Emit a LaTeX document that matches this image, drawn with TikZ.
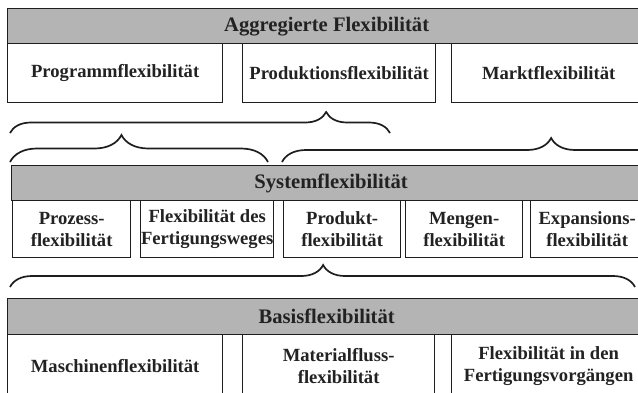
\documentclass[tikz,border=0pt]{standalone}
\usepackage{fontspec}
\setmainfont{Liberation Serif}
\usetikzlibrary{decorations.pathreplacing}

\definecolor{bandgray}{HTML}{B4B4B4}
\definecolor{inkline}{HTML}{1E1E1E}
\definecolor{inktext}{HTML}{222222}

\tikzset{
  cell/.style={draw=inkline, line width=1.3pt, fill=white, inner sep=0pt,
    anchor=north west, align=center, text=inktext,
    font=\bfseries\fontsize{18.6}{22}\selectfont},
  band/.style={cell, fill=bandgray, font=\bfseries\fontsize{20.6}{24}\selectfont},
  curly/.style={draw=inkline, line width=1.7pt, decorate,
    decoration={brace, amplitude=#1}},
}

\begin{document}
\begin{tikzpicture}[x=1pt, y=-1pt]
  \useasboundingbox (0,0) rectangle (638,392);
  \clip (0,0) rectangle (638,392);
  \fill[white] (0,0) rectangle (638,392);

  % aggregated level
  \node[band, minimum width=638pt, minimum height=35pt] (agg) at (7,8) {Aggregierte Flexibilität};
  \node[cell, minimum width=215pt, minimum height=59pt] (prog) at (7,43) {Programmflexibilität};
  \node[cell, minimum width=193pt, minimum height=59pt] (prod) at (242,43) {Produktionsflexibilität};
  \node[cell, minimum width=194pt, minimum height=59pt] (markt) at (451,43) {Marktflexibilität};

  % braces between aggregated and system level
  \coordinate (b1l) at (10,133);  \coordinate (b1r) at (390,133);
  \coordinate (b2l) at (10,162);  \coordinate (b2r) at (268,162);
  \coordinate (b3l) at (282,162); \coordinate (b3r) at (660,162);
  \draw[curly=21, decoration={aspect=0.832}] (b1l) -- (b1r);
  \draw[curly=27, decoration={aspect=0.432}] (b2l) -- (b2r);
  \draw[curly=24, decoration={aspect=0.712}] (b3l) -- (b3r);

  % system level
  \node[band, minimum width=639pt, minimum height=35pt] (sys) at (11,165) {Systemflexibilität};
  \node[cell, minimum width=118pt, minimum height=57pt] (proz) at (12,200) {Prozess-\\flexibilität};
  \node[cell, minimum width=133pt, minimum height=57pt] (weg) at (140,200) {Flexibilität des\\Fertigungsweges};
  \node[cell, minimum width=117pt, minimum height=57pt] (pdk) at (283,200) {Produkt-\\flexibilität};
  \node[cell, minimum width=117pt, minimum height=57pt] (meng) at (405,200) {Mengen-\\flexibilität};
  \node[cell, minimum width=113pt, minimum height=57pt] (exp) at (530,200) {Expansions-\\flexibilität};

  % brace between system and basic level
  \coordinate (b4l) at (10,287); \coordinate (b4r) at (635,287);
  \draw[curly=22, decoration={aspect=0.501}] (b4l) -- (b4r);

  % basic level
  \node[band, minimum width=638pt, minimum height=36pt] (basis) at (7,298) {Basisflexibilität};
  \node[cell, minimum width=215pt, minimum height=62pt] (masch) at (7,334) {Maschinenflexibilität};
  \node[cell, minimum width=192pt, minimum height=62pt] (mat) at (242,334) {Materialfluss-\\flexibilität};
  \node[cell, minimum width=194pt, minimum height=62pt] (vorg) at (451,334) {Flexibilität in den\\Fertigungsvorgängen};
\end{tikzpicture}
\end{document}
